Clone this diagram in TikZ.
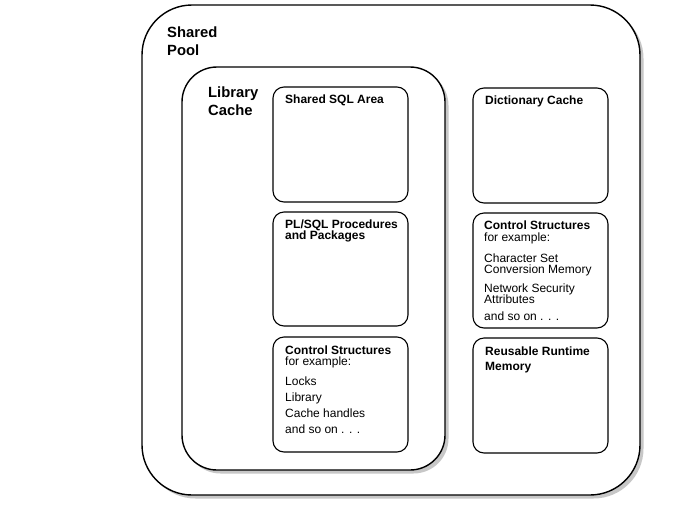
\documentclass[tikz,border=0pt]{standalone}
\usepackage{fontspec}
\setmainfont{Liberation Sans}
\usetikzlibrary{shadows}
\begin{document}
\begin{tikzpicture}[x=1pt,y=-1pt,
  box/.style={draw=black, fill=white, rectangle, inner sep=0pt, outer sep=0pt},
  bigbox/.style={box, line width=1.4pt,
    drop shadow={shadow xshift=3.5pt, shadow yshift=-3.5pt, fill=black!22, opacity=1}},
  smallbox/.style={box, line width=1.1pt, rounded corners=11pt},
  bigtitle/.style={anchor=base west, inner sep=0pt, font=\fontsize{14.8}{16}\selectfont\bfseries},
  title/.style={anchor=base west, inner sep=0pt, font=\fontsize{12}{12}\selectfont\bfseries},
  body/.style={anchor=base west, inner sep=0pt, font=\fontsize{12}{12}\selectfont}]
\useasboundingbox[fill=white] (0,0) rectangle (688,512);
% outer boxes
\node[bigbox, rounded corners=50pt, minimum width=498pt, minimum height=490pt] (pool) at (391,250) {};
\node[bigbox, rounded corners=35pt, minimum width=263pt, minimum height=403pt] (lib) at (313.5,268.5) {};
% small boxes
\node[smallbox, minimum width=135pt, minimum height=115pt] (sql) at (340.5,144.5) {};
\node[smallbox, minimum width=135pt, minimum height=114pt] (plsql) at (340.5,269) {};
\node[smallbox, minimum width=135pt, minimum height=115pt] (ctrlL) at (340.5,394.5) {};
\node[smallbox, minimum width=135pt, minimum height=115pt] (dict) at (540.5,145.5) {};
\node[smallbox, minimum width=135pt, minimum height=115pt] (ctrlR) at (540.5,270.5) {};
\node[smallbox, minimum width=135pt, minimum height=115pt] (reuse) at (540.5,395.5) {};
% labels
\node[bigtitle] (poolA) at (167,37) {Shared};
\node[bigtitle] (poolB) at (167,55) {Pool};
\node[bigtitle] (libA) at (208,97) {Library};
\node[bigtitle] (libB) at (208,115) {Cache};
\node[title] (sqlT) at (285,103) {Shared SQL Area};
\node[title] (plA) at (285,228) {PL/SQL Procedures};
\node[title] (plB) at (285,239) {and Packages};
\node[title] (clT) at (285,354) {Control Structures};
\node[body] (clF) at (285,365) {for example:};
\node[body] (cl1) at (285,385) {Locks};
\node[body] (cl2) at (285,401.5) {Library};
\node[body] (cl3) at (285,417.5) {Cache handles};
\node[body] (cl4) at (285,433.5) {and so on . . .};
\node[title] (dictT) at (485,104) {Dictionary Cache};
\node[title] (crT) at (484,229) {Control Structures};
\node[body] (crF) at (484,241) {for example:};
\node[body] (cr1) at (484,262) {Character Set};
\node[body] (cr2) at (484,273) {Conversion Memory};
\node[body] (cr3) at (484,292) {Network Security};
\node[body] (cr4) at (484,303) {Attributes};
\node[body] (cr5) at (484,320.5) {and so on . . .};
\node[title] (ruA) at (485,355) {Reusable Runtime};
\node[title] (ruB) at (485,370) {Memory};
\end{tikzpicture}
\end{document}
